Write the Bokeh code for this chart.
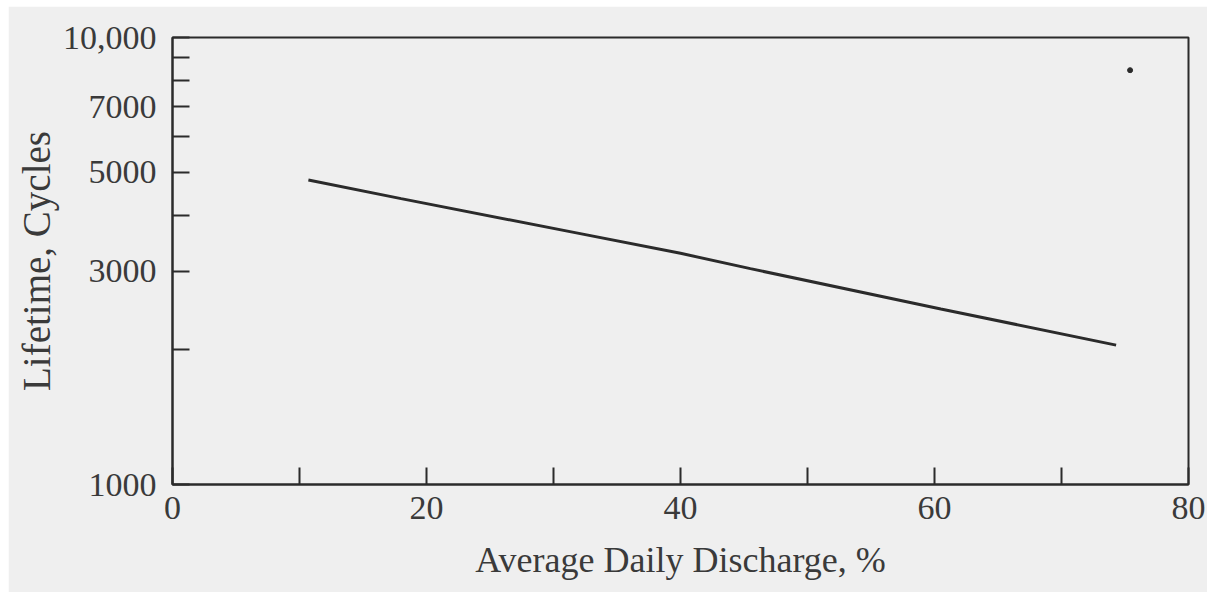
from bokeh.plotting import figure
from bokeh.models import Range1d, FixedTicker
from bokeh.embed import file_html
from bokeh.resources import INLINE

# Battery cycle life versus average daily depth of discharge
discharge_pct = [10.7, 18.0, 31.7, 40.0, 45.5, 60.5, 74.3]
lifetime_cycles = [4800, 4360, 3660, 3290, 3040, 2470, 2050]

# stray mark near the upper right corner
speck_x = [75.4]
speck_y = [8450]

x_major = [0, 20, 40, 60, 80]
x_minor = [10, 30, 50, 70]
y_major = [1000, 3000, 5000, 7000, 10000]
y_major_labels = ["1000", "3000", "5000", "7000", "10,000"]
y_minor = [2000, 4000, 6000, 8000, 9000]

FONT = "Liberation Serif"
TEXT = "#3a3a3a"
INK = "#2b2b2b"
BG = "#efefef"

p = figure(
    width=1199, height=586,
    y_axis_type="log",
    x_range=Range1d(0, 80), y_range=Range1d(1000, 10000),
    output_backend="svg", toolbar_location=None,
    min_border_left=164, min_border_right=19,
    min_border_top=31, min_border_bottom=108,
    background_fill_color=BG, border_fill_color=BG,
)
p.margin = (6, 0, 0, 8)

p.grid.visible = False
p.outline_line_color = INK
p.outline_line_width = 2
p.outline_line_alpha = 1

p.xaxis.ticker = FixedTicker(ticks=x_major, minor_ticks=x_minor)
p.yaxis.ticker = FixedTicker(ticks=y_major, minor_ticks=y_minor)
p.yaxis.major_label_overrides = {v: s for v, s in zip(y_major, y_major_labels)}

for ax in (p.xaxis, p.yaxis):
    ax.axis_line_color = INK
    ax.axis_line_width = 2
    ax.major_tick_in = 17
    ax.major_tick_out = 0
    ax.minor_tick_in = 17
    ax.minor_tick_out = 0
    ax.major_tick_line_color = INK
    ax.minor_tick_line_color = INK
    ax.major_tick_line_width = 2
    ax.minor_tick_line_width = 2
    ax.major_label_text_font = FONT
    ax.major_label_text_font_size = "34px"
    ax.major_label_text_color = TEXT
    ax.axis_label_text_font = FONT
    ax.axis_label_text_font_style = "normal"
    ax.axis_label_text_color = TEXT

p.xaxis.axis_label = "Average Daily Discharge, %"
p.xaxis.axis_label_text_font_size = "36px"
p.xaxis.major_label_standoff = 12
p.xaxis.axis_label_standoff = 18

p.yaxis.axis_label = "Lifetime, Cycles"
p.yaxis.axis_label_text_font_size = "39px"
p.yaxis.major_label_standoff = 16
p.yaxis.axis_label_standoff = 2

p.line(discharge_pct, lifetime_cycles, line_color=INK, line_width=3)
p.scatter(speck_x, speck_y, size=5, color=INK)

open("out.html", "w").write(file_html(p, INLINE))
